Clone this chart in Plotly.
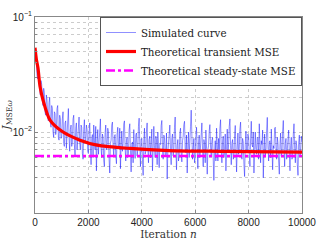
import plotly.graph_objects as go

# ---- data, simulated values in units of 1e-3 ----
simulated_mse_e3 = [
    52, 46, 40, 31, 29, 36, 33, 24, 21, 28, 26, 19, 17, 24, 22, 15, 14, 21, 19, 13.5,
    12.5, 18, 20, 12, 11, 17, 16, 10, 9.0, 15, 14.5, 9.5, 10.5, 16, 17, 9, 8.5, 14, 13, 8.8,
    9.0, 13, 15, 8, 7.5, 12, 12.5, 7.2, 10, 14, 16, 9, 6.8, 10.5, 11.5, 7.5, 8.2, 13, 14, 7.8,
    6.2, 10.8, 12, 7, 9.5, 12.5, 13.5, 8, 7.0, 11.5, 11, 6.5, 5.8, 10.5, 12.8, 8, 8.5, 11.5, 10.5, 6.8,
    6.5, 10, 12, 7.5, 5.2, 8.8, 9.5, 6.0, 11.5, 8.5, 7.0, 11.2, 4.6, 8, 10.5, 6.4, 8.0, 12, 13, 7.2,
    6.0, 9.6, 9.0, 5.6, 5.0, 9.8, 11.5, 7.0, 7.5, 10.8, 10, 5.8, 4.4, 8, 8.5, 11.5, 12.2, 7.4, 6.2, 9.2,
    9.5, 6.2, 5.3, 9.6, 11, 7.4, 7.2, 10.8, 4.8, 7.6, 10.2, 6.8, 8.0, 11.8, 12.5, 7.2, 5.6, 8.4, 9.0, 6.0,
    6.5, 10.4, 11.8, 7.0, 4.5, 7.8, 8.2, 5.4, 10.5, 7.2, 5.9, 9.4, 9.8, 6.2, 7.0, 11.2, 13.2, 7.8, 5.0, 8.6,
    8.8, 5.8, 4.2, 8.2, 10.8, 6.4, 6.8, 10.2, 12, 7.2, 5.4, 8.6, 9.2, 6.0, 7.5, 10.6, 4.6, 7.0, 11.2, 7.6,
    6.0, 9.2, 8.5, 5.2, 10.0, 7.4, 4.9, 8.0, 7.8, 11.4, 12.6, 7.0, 5.8, 9.4, 9.0, 6.2, 6.4, 9.8, 3.9, 6.6,
    8.0, 10.6, 11.5, 6.8, 5.2, 8.8, 9.6, 6.2, 7.0, 11.0, 13.5, 7.4, 4.7, 7.6, 8.6, 5.6, 6.2, 9.8, 10.8, 6.6,
    5.5, 8.4, 9.2, 11.6, 12.4, 7.0, 6.6, 9.4, 4.4, 7.2, 10.0, 6.0, 7.4, 11.2, 15.5, 8.2, 5.8, 7.0, 8.8, 5.4,
    6.0, 9.2, 11.0, 6.8, 4.8, 8.0, 9.4, 6.0, 7.2, 10.4, 12.0, 7.0, 5.0, 8.6, 8.0, 5.4, 10.4, 7.2, 4.3, 7.0,
    7.6, 10.2, 11.6, 7.4, 6.2, 8.4, 9.0, 5.8, 3.8, 6.6, 8.4, 5.6, 10.8, 7.8, 5.6, 8.8, 7.0, 10.8, 12.8, 7.2,
    5.4, 8.2, 9.2, 6.0, 6.8, 9.6, 4.6, 7.0, 10.6, 6.6, 7.8, 11.2, 13.0, 7.6, 5.2, 8.0, 8.6, 5.8, 6.0, 9.4,
    11.4, 7.0, 4.5, 7.4, 9.8, 6.4, 7.2, 10.6, 12.2, 7.2, 5.8, 8.8, 8.2, 5.2, 4.1, 7.8, 10.2, 7.0, 6.6, 9.6,
    9.0, 6.4, 5.0, 8.8, 12.4, 7.8, 7.4, 10.0, 4.4, 6.8, 10.0, 7.2, 6.4, 9.0, 8.8, 5.8, 11.8, 8.0, 5.4, 8.4,
    7.8, 10.4, 4.0, 6.6, 9.6, 6.2, 6.8, 10.2, 13.4, 7.6, 5.6, 8.2, 8.4, 6.0, 10.6, 7.4, 4.7, 7.6, 7.2, 10.8,
    11.0, 7.4, 5.8, 9.0, 8.0, 5.6, 4.3, 7.8, 9.8, 6.2, 6.6, 10.2, 12.6, 7.6, 5.0, 8.0, 8.8, 5.8, 7.0, 10.4,
    10.4, 6.6, 4.6, 7.6, 9.0, 5.8, 6.2, 9.6, 11.8, 7.2, 5.4, 8.4, 7.6, 5.2, 4.2, 8.0, 9.4, 6.2, 6.8, 9.2, 8.2,
]
max_iteration = 10000
sim_iterations = [i * max_iteration / (len(simulated_mse_e3) - 1) for i in range(len(simulated_mse_e3))]
simulated_mse = [v / 1000 for v in simulated_mse_e3]

transient_iter = [0, 50, 112, 187, 300, 562, 1050, 1685, 2320, 3560, 5000, 7000, 10000]
transient_mse = [0.054, 0.043, 0.036, 0.025, 0.019, 0.0127, 0.0100, 0.0085, 0.0077, 0.0072, 0.0069, 0.0068, 0.0067]

steady_iter = [0, 10000]
steady_mse = [0.0062, 0.0062]

x_ticks = [0, 2000, 4000, 6000, 8000, 10000]
x_tick_labels = ["0", "2000", "4000", "6000", "8000", "10000"]
y_ticks = [0.01, 0.1]
y_tick_labels = ["10<sup>−2</sup>", "10<sup>−1</sup>"]
y_minor = [k * 10.0 ** e for e in (-3, -2) for k in range(2, 10)]

serif = "DejaVu Serif, Liberation Serif, serif"
sans = "Liberation Sans, Arial, sans-serif"

fig = go.Figure()
fig.add_trace(go.Scatter(
    x=sim_iterations, y=simulated_mse, mode="lines", name="Simulated curve",
    line=dict(color="rgba(10,10,255,0.65)", width=0.7),
))
fig.add_trace(go.Scatter(
    x=transient_iter, y=transient_mse, mode="lines", name="Theoretical transient MSE",
    line=dict(color="#ff0000", width=3.2, shape="spline", smoothing=0.8),
))
fig.add_trace(go.Scatter(
    x=steady_iter, y=steady_mse, mode="lines", name="Theoretical steady-state MSE",
    line=dict(color="#ff00ff", width=2.5, dash="dashdot"),
))

fig.update_layout(
    width=326, height=250,
    margin=dict(l=35, r=24, t=17, b=37),
    paper_bgcolor="white", plot_bgcolor="white",
    showlegend=True,
    legend=dict(
        x=1, y=1, xanchor="right", yanchor="top",
        bgcolor="white", bordercolor="#555", borderwidth=1,
        font=dict(family=serif, size=10.3, color="#222"),
        itemwidth=30, tracegroupgap=0,
    ),
)
fig.update_xaxes(
    range=[0, 10000], tickvals=x_ticks, ticktext=x_tick_labels, automargin=False,
    showline=True, mirror=True, linecolor="#888", linewidth=1.2,
    showgrid=True, gridcolor="#ccc", griddash="dot", gridwidth=1,
    zeroline=False, ticks="inside", ticklen=3, tickcolor="#888",
    tickfont=dict(family=sans, size=10, color="#222"),
    title=dict(text="Iteration <i>n</i>", font=dict(family=serif, size=10.5, color="#333"), standoff=2),
)
fig.update_yaxes(
    type="log", range=[-2.704, -1], automargin=False,
    tickvals=y_ticks, ticktext=y_tick_labels,
    showline=True, mirror=True, linecolor="#888", linewidth=1.2,
    showgrid=True, gridcolor="#ccc", griddash="dot", gridwidth=1,
    zeroline=False, ticks="inside", ticklen=3, tickcolor="#888",
    minor=dict(tickvals=y_minor, showgrid=True, gridcolor="#ccc", griddash="dot", ticks="inside", ticklen=2, tickcolor="#888"),
    tickfont=dict(family=sans, size=10, color="#222"),
    title=dict(text="<i>J</i><sub>MSE<i>ω</i></sub>", font=dict(family=serif, size=11, color="#333"), standoff=2),
)

fig.write_html("out.html", config={"displayModeBar": False},
               post_script="document.body.style.margin='0';")
